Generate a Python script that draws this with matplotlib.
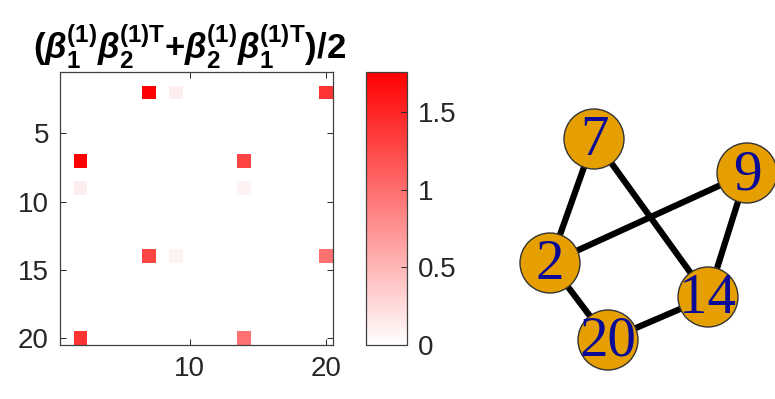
import numpy as np
import matplotlib.pyplot as plt
from matplotlib.colors import LinearSegmentedColormap
from matplotlib.patches import Circle

plt.rcParams['font.family'] = 'Liberation Sans'
plt.rcParams['mathtext.fontset'] = 'custom'
plt.rcParams['mathtext.rm'] = 'Liberation Sans'
plt.rcParams['mathtext.bf'] = 'Liberation Sans:bold'
plt.rcParams['mathtext.it'] = 'Liberation Sans:italic'
plt.rcParams['mathtext.bfit'] = 'Liberation Sans:italic:bold'

# symmetric matrix (beta1 beta2^T + beta2 beta1^T)/2, upper triangle entries (1-based)
n = 20
rows = [2, 2, 2, 7, 9, 14]
cols = [7, 9, 20, 14, 14, 20]
vals = [1.757, 0.12, 1.39, 1.29, 0.09, 0.98]

# graph of the same support
node_ids = [2, 7, 9, 14, 20]
node_x = [550, 594, 747, 708, 608]
node_y = [263, 139, 173, 297, 340]
edges = [(7, 2), (7, 14), (2, 9), (9, 14), (2, 20), (20, 14)]

M = np.zeros((n, n))
for r, c, v in zip(rows, cols, vals):
    M[r - 1, c - 1] = v
    M[c - 1, r - 1] = v

W, H = 775, 399
fig = plt.figure(figsize=(W / 100, H / 100), dpi=100)

def box(x0, y0, x1, y1):
    return [x0 / W, 1 - y1 / H, (x1 - x0) / W, (y1 - y0) / H]

cmap = LinearSegmentedColormap.from_list('wr', ['white', 'red'])
ax = fig.add_axes(box(60, 72, 333, 345))
im = ax.imshow(M, cmap=cmap, vmin=0, vmax=M.max(), interpolation='nearest',
               extent=(0.5, n + 0.5, n + 0.5, 0.5), aspect='auto')
ax.set_xticks([10, 20])
ax.set_yticks([5, 10, 15, 20])
ax.tick_params(direction='in', length=4, width=0.7, labelsize=20, colors='#262626',
               top=True, right=True, pad=8)
for s in ax.spines.values():
    s.set_color('#404040')
    s.set_linewidth(0.9)
ax.set_title(r'$\mathbf{(}\boldsymbol{\beta}_{\mathbf{1}}^{\mathbf{(1)}}'
             r'\boldsymbol{\beta}_{\mathbf{2}}^{\mathbf{(1)T}}\mathbf{+}'
             r'\boldsymbol{\beta}_{\mathbf{2}}^{\mathbf{(1)}}'
             r'\boldsymbol{\beta}_{\mathbf{1}}^{\mathbf{(1)T}}\mathbf{)/2}$',
             fontsize=25, pad=9, x=0.475)

cax = fig.add_axes(box(366, 72, 407, 345))
cb = fig.colorbar(im, cax=cax, ticks=[0, 0.5, 1, 1.5])
cb.ax.set_yticklabels(['0', '0.5', '1', '1.5'])
cb.ax.tick_params(direction='in', length=4, width=0.7, labelsize=20, colors='#262626', pad=8)
cb.outline.set_edgecolor('#404040')
cb.outline.set_linewidth(0.9)

# network drawn in pixel-like layout coordinates
gx = fig.add_axes(box(490, 80, 775, 399))
gx.set_xlim(490, 775)
gx.set_ylim(399, 80)
gx.axis('off')
pos = {k: (x, y) for k, x, y in zip(node_ids, node_x, node_y)}
for a, b in edges:
    gx.plot([pos[a][0], pos[b][0]], [pos[a][1], pos[b][1]], color='black', lw=4.5,
            solid_capstyle='butt', zorder=1)
for k in node_ids:
    x, y = pos[k]
    gx.add_patch(Circle((x, y), 30, facecolor='#e69f00', edgecolor='#333333', lw=1.0,
                        zorder=2, clip_on=False))
    gx.text(x, y + 2, str(k), ha='center', va='center', fontsize=41, color='#0a0a96',
            family='Liberation Serif', zorder=3)

fig.savefig('out.png', dpi=100)
